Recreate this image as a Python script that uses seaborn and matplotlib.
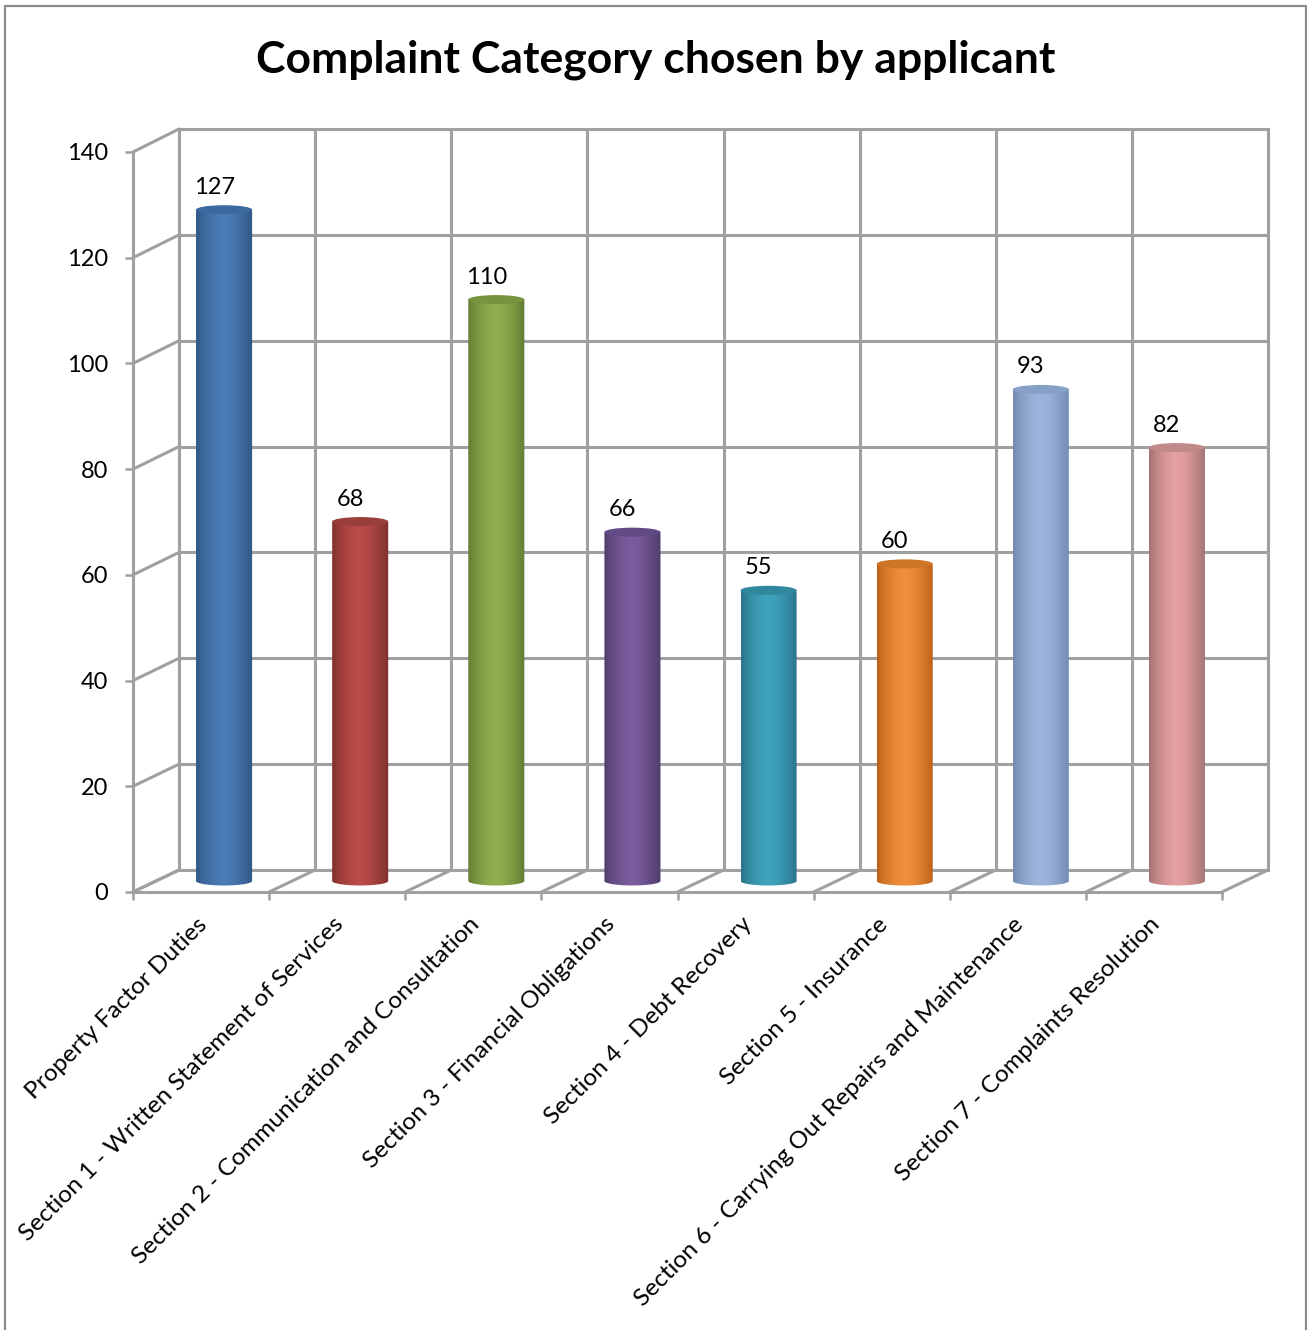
import numpy as np
import matplotlib
matplotlib.use("Agg")
import matplotlib.pyplot as plt
from matplotlib.patches import ConnectionPatch, Ellipse
from matplotlib.path import Path
from matplotlib.lines import Line2D
from matplotlib.colors import LinearSegmentedColormap
from matplotlib.transforms import ScaledTranslation
import seaborn as sns

categories = ["Property Factor Duties", "Section 1 - Written Statement of Services",
              "Section 2 - Communication and Consultation", "Section 3 - Financial Obligations",
              "Section 4 - Debt Recovery", "Section 5 - Insurance",
              "Section 6 - Carrying Out Repairs and Maintenance", "Section 7 - Complaints Resolution"]
values = [127, 68, 110, 66, 55, 60, 93, 82]
title = "Complaint Category chosen by applicant"
light = ["#4A7DB5", "#BA4B48", "#8FB04E", "#7A5C9E", "#3FA3BE", "#F0903C", "#9DB4DC", "#E5A0A2"]
dark = ["#2F5585", "#7C302D", "#617A33", "#4E3B68", "#287085", "#B85E16", "#7088AE", "#A07070"]
top = ["#3A6A9E", "#9A3E3A", "#76943E", "#624A84", "#30889F", "#CE7426", "#86A0C8", "#C08A8B"]
yticks = [0, 20, 40, 60, 80, 100, 120, 140]

W, H = 1307, 1330
GRID = "#A0A0A0"
FS = 17
FS_X = 17.6
sns.set_theme(style="white")
plt.rcParams["font.family"] = ["Lato", "DejaVu Sans"]

fig = plt.figure(figsize=(W / 100, H / 100), dpi=100, facecolor="white")


def axes_px(left, right, ytop, ybottom, z):
    a = fig.add_axes([left / W, 1 - ybottom / H, (right - left) / W, (ybottom - ytop) / H], zorder=z)
    a.patch.set_alpha(0)
    return a


px_per_unit = 740 / yticks[-1]
below = 2.0  # room under zero for the round foot of the cylinders
ax_back = axes_px(179, 1268, 129, 870, 1)
ax_bars = axes_px(156, 1245, 141, 881 + below * px_per_unit, 2)
ax_front = axes_px(133, 1222, 152, 892, 3)

for a in (ax_back, ax_front):
    a.set_xlim(0, len(categories))
    a.set_ylim(0, yticks[-1])

# back wall
ax_back.set_xticks(range(len(categories) + 1))
ax_back.set_yticks(yticks)
ax_back.set_xticklabels([])
ax_back.set_yticklabels([])
ax_back.tick_params(length=0)
ax_back.grid(True, color=GRID, lw=2.2)
ax_back.set_axisbelow(True)
for s in ax_back.spines.values():
    s.set_color(GRID)
    s.set_linewidth(2.2)

# depth lines joining the front axes to the wall
for v in yticks:
    ax_back.add_artist(ConnectionPatch((0, v), (0, v), ax_front.transData, ax_back.transData,
                                       color=GRID, lw=2.2, clip_on=False))
for i in range(len(categories) + 1):
    ax_back.add_artist(ConnectionPatch((i, 0), (i, 0), ax_front.transData, ax_back.transData,
                                       color=GRID, lw=2.2, clip_on=False))

# front axes
for side in ("top", "right"):
    ax_front.spines[side].set_visible(False)
for side in ("left", "bottom"):
    ax_front.spines[side].set_color(GRID)
    ax_front.spines[side].set_linewidth(2.2)
ax_front.set_yticks(yticks)
ax_front.set_yticklabels([str(v) for v in yticks])
ax_front.set_xticks(range(len(categories) + 1))
ax_front.set_xticklabels([])
ax_front.set_xticks(np.arange(len(categories)) + 0.5, minor=True)
ax_front.set_xticklabels(categories, minor=True, rotation=45, ha="right", va="top",
                         rotation_mode="anchor", fontsize=FS_X, color="black")
ax_front.tick_params(axis="y", which="major", length=6, width=1.8, color=GRID, pad=12,
                     labelsize=FS, labelcolor="black", left=True)
ax_front.tick_params(axis="x", which="major", length=6, width=1.8, color=GRID, bottom=True)
ax_front.tick_params(axis="x", which="minor", length=0, pad=15.5)
shift = ScaledTranslation(-3.5 / 72, 0, fig.dpi_scale_trans)
for lab in ax_front.get_xticklabels(minor=True):
    lab.set_transform(lab.get_transform() + shift)

# cylinders
BAR_W = 56 / 136
sns.barplot(x=categories, y=values, hue=categories, palette=light, legend=False,
            width=BAR_W, saturation=1, dodge=False, ax=ax_bars)
ax_bars.set_axis_off()
ax_bars.set_xlim(-0.5, len(categories) - 0.5)
ax_bars.set_ylim(-below, yticks[-1])

ramp = np.array([0.0, 0.12, 0.3, 0.47, 0.62, 0.8, 1.0])
weights = np.array([0.95, 0.55, 0.18, 0.0, 0.1, 0.45, 0.95])
cap = 9 / px_per_unit
arc = np.linspace(np.pi, 2 * np.pi, 40)
for i, patch in enumerate(list(ax_bars.patches)[:len(categories)]):
    x0, w = patch.get_x(), patch.get_width()
    v = patch.get_height()
    if v == 0:
        continue
    cmap = LinearSegmentedColormap.from_list(f"c{i}", [dark[i], light[i]])
    xs = np.linspace(0, 1, 256)
    img = (1 - np.interp(xs, ramp, weights))[np.newaxis, :]
    cx = x0 + w / 2
    outline = np.column_stack([cx + w / 2 * np.cos(arc), cap / 2 * np.sin(arc)])
    outline = np.vstack([outline, [x0 + w, v], [x0, v], outline[0]])
    patch.set_visible(False)
    body = ax_bars.imshow(img, extent=(x0, x0 + w, -below, v), cmap=cmap, vmin=0, vmax=1,
                          aspect="auto", zorder=3.3, interpolation="nearest")
    body.set_clip_path(Path(outline, closed=True), transform=ax_bars.transData)
    ax_bars.add_patch(Ellipse((cx, v), w, cap, facecolor=top[i], edgecolor="none",
                              zorder=3.4, clip_on=False))
    ax_bars.annotate(str(int(v)), (i, v), xytext=(-7.2, 16.2), textcoords="offset points",
                     ha="center", va="center", fontsize=FS, color="black", zorder=5)
ax_bars.set_xlim(-0.5, len(categories) - 0.5)
ax_bars.set_ylim(-below, yticks[-1])

fig.text(655.5 / W, 1 - 60 / H, title, ha="center", va="center", fontsize=32, fontweight="bold", color="black")
# chart frame: the lower edge lies beyond the picture
for xs_, ys_ in (([5, 5], [H, 6]), ([5, 1306], [6, 6]), ([1306, 1306], [6, H])):
    fig.add_artist(Line2D([x / W for x in xs_], [1 - y / H for y in ys_], transform=fig.transFigure,
                          color="#8C8C8C", lw=1.6))
fig.savefig("out.png", dpi=100)
